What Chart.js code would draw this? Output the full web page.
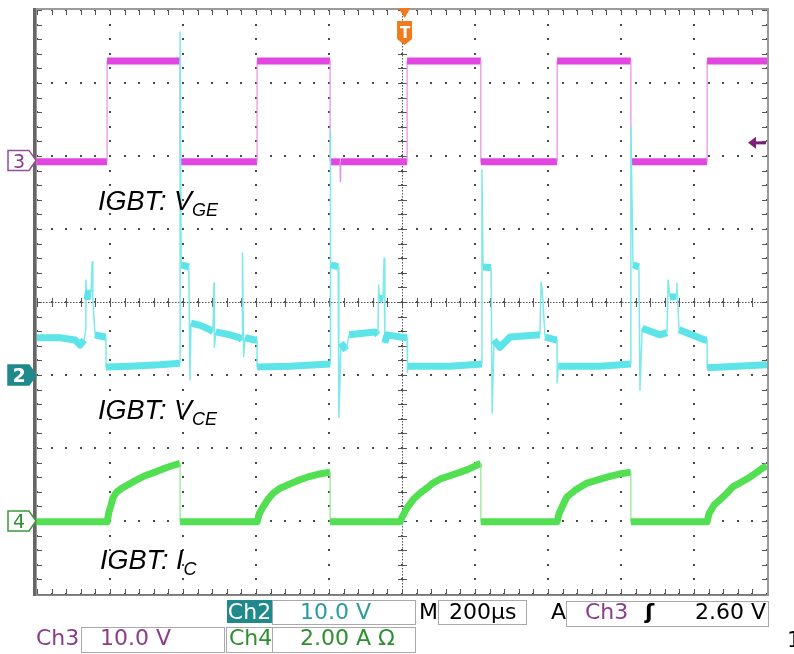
<!DOCTYPE html>
<html><head><meta charset="utf-8">
<script src="https://cdn.jsdelivr.net/npm/chart.js@4.4.1/dist/chart.umd.min.js"></script>
<style>
html,body{margin:0;padding:0;background:#fff}
#wrap{position:relative;width:794px;height:654px;overflow:hidden;background:#fff}
#c{position:absolute;left:0;top:0}
.t{position:absolute;font-family:'DejaVu Sans',sans-serif;font-size:22px;line-height:24px;white-space:nowrap}
.b{position:absolute;border:1.5px solid #a9a9a9;box-sizing:border-box;background:#fff}
.lab{position:absolute;font-family:'Liberation Sans',Arial,sans-serif;font-style:italic;font-size:27px;line-height:27px;white-space:nowrap;color:#000}
.lab span{font-size:18px;position:relative;top:6px}
.tag{position:absolute;font-family:'DejaVu Sans',sans-serif;font-size:19px;line-height:20px;width:22px;text-align:center}
</style></head><body>
<div id="wrap">
<canvas id="c" width="794" height="654"></canvas>

<div class="lab" style="left:98px;top:188px">IGBT: V<span>GE</span></div>
<div class="lab" style="left:98px;top:397px">IGBT: V<span>CE</span></div>
<div class="lab" style="left:100px;top:547px">IGBT: I<span>C</span></div>

<div class="tag" style="left:8px;top:151px;color:#8b3d8b">3</div>
<div class="tag" style="left:8px;top:365px;color:#fff;font-weight:bold">2</div>
<div class="tag" style="left:8px;top:511px;color:#2f8f2f">4</div>
<div class="t" style="left:398px;top:21px;width:14px;text-align:center;font-size:15px;font-weight:bold;color:#fff">T</div>

<!-- footer row 1 -->
<div class="b" style="left:272px;top:600px;width:144px;height:25px"></div>
<div class="b" style="left:438px;top:600px;width:89px;height:25px"></div>
<div class="b" style="left:566px;top:601px;width:203px;height:26px"></div>
<div class="t" style="left:227px;top:600px;width:45px;height:23px;background:#1f898b;color:#fff;text-align:center">Ch2</div>
<div class="t" style="left:300px;top:600px;color:#2a9c9e">10.0 V</div>
<div class="t" style="left:419px;top:600px;color:#000">M</div>
<div class="t" style="left:449px;top:600px;color:#000">200µs</div>
<div class="t" style="left:551px;top:600px;color:#000">A</div>
<div class="t" style="left:585px;top:600px;color:#8b3d8b">Ch3</div>
<div class="t" style="left:645px;top:600px;color:#000;font-weight:bold">ʃ</div>
<div class="t" style="left:695px;top:600px;color:#000">2.60 V</div>
<!-- footer row 2 -->
<div class="b" style="left:81px;top:627px;width:144px;height:26px"></div>
<div class="b" style="left:226px;top:627px;width:47px;height:26px;border-right:none"></div>
<div class="b" style="left:272px;top:627px;width:144px;height:26px"></div>
<div class="t" style="left:36px;top:626px;color:#8b3d8b">Ch3</div>
<div class="t" style="left:100px;top:626px;color:#8b3d8b">10.0 V</div>
<div class="t" style="left:229px;top:626px;color:#2f8f2f">Ch4</div>
<div class="t" style="left:300px;top:626px;color:#2f8f2f">2.00 A Ω</div>
<div class="t" style="left:787px;top:628px;color:#000">1</div>
</div>

<script>
// time axis in microseconds (200 µs/div, 10 div), vertical axis in screen divisions (8 div)
const timeDivs = [0, 200, 400, 600, 800, 1000, 1200, 1400, 1600, 1800, 2000];
const voltDivs = [-4, -3, -2, -1, 0, 1, 2, 3, 4];

// Ch3: IGBT V_GE (10 V/div)
const vgeT = [0,192,192,392,392,603,603,803,803,830,831,832,1014,1014,1216,1216,1425,1425,1627,1627,1836,1836,2000];
const vgeY = [1.92,1.92,3.30,3.30,1.92,1.92,3.30,3.30,1.92,1.92,1.65,1.92,1.92,3.30,3.30,1.92,1.92,3.30,3.30,1.92,1.92,3.30,3.30];

// Ch2: IGBT V_CE (10 V/div)
const vceT = [0,63,104,118,129,134,134,137,140,148,151,153,159,186,189,189,255,337,392,392,395,416,419,422,447,474,482,485,486,490,529,556,562,563,566,570,597,603,603,693,803,803,805,825,827,833,847,855,926,934,936,938,948,951,953,959,995,1014,1014,1016,1132,1219,1219,1222,1244,1247,1252,1268,1288,1296,1378,1381,1384,1392,1422,1425,1425,1428,1542,1627,1627,1633,1649,1652,1658,1707,1726,1729,1734,1751,1753,1759,1830,1836,1836,2000];
const vceY = [-0.49,-0.49,-0.52,-0.59,-0.52,-0.38,0.30,0.03,0.12,0.12,0.55,0.03,-0.45,-0.48,-0.48,-0.89,-0.88,-0.86,-0.84,3.70,0.51,0.48,-1.07,-0.29,-0.32,-0.38,-0.41,0.26,-0.62,-0.41,-0.45,-0.49,-0.52,0.67,-0.75,-0.49,-0.52,-0.52,-0.89,-0.88,-0.85,2.33,0.51,0.48,-1.58,-0.56,-0.66,-0.45,-0.41,-0.45,0.23,0.05,0.05,0.60,-0.56,-0.45,-0.48,-0.49,-0.97,-0.88,-0.88,-0.85,1.81,0.48,0.47,-1.52,-0.52,-0.62,-0.52,-0.48,-0.45,0.27,0.16,-0.48,-0.52,-0.52,-1.11,-0.88,-0.88,-0.85,2.40,0.51,0.48,-1.21,-0.36,-0.45,-0.42,0.30,0.07,0.07,0.26,-0.38,-0.52,-0.52,-0.90,-0.86];

// Ch4: IGBT I_C (2 A/div)
const icT = [0,192,197,203,208,219,233,247,268,296,329,359,392,392,
             603,609,619,633,647,666,685,712,740,770,803,803,
             995,1000,1014,1030,1049,1068,1085,1107,1131,1178,1216,1216,
             1425,1430,1441,1452,1474,1507,1534,1562,1592,1627,1627,
             1836,1841,1855,1871,1888,1907,1929,1953,1973,1989,2000];
const icY = [-3.01,-3.01,-2.88,-2.78,-2.68,-2.60,-2.55,-2.51,-2.45,-2.38,-2.32,-2.26,-2.21,-3.01,
             -3.01,-2.90,-2.81,-2.70,-2.62,-2.55,-2.51,-2.45,-2.40,-2.36,-2.33,-3.01,
             -3.01,-2.95,-2.82,-2.71,-2.62,-2.55,-2.48,-2.42,-2.38,-2.30,-2.21,-3.01,
             -3.01,-2.90,-2.78,-2.67,-2.58,-2.48,-2.44,-2.40,-2.36,-2.33,-3.01,
             -3.01,-2.90,-2.78,-2.71,-2.63,-2.53,-2.47,-2.40,-2.33,-2.27,-2.25];

// channel ground markers (div), trigger position (µs) and trigger level (div)
const groundLevels = [1.94, -1.0, -3.0];
const triggerTime = 1007;
const triggerLevel = 2.18;

const pts = (t, v) => t.map((x, i) => ({x, y: v[i]}));
const isThin = (c, ratio) => {
  const dx = Math.abs(c.p1.x - c.p0.x), dy = Math.abs(c.p1.y - c.p0.y);
  if (dx < 1) return true;
  return ratio > 0 && dy > 8 && dy > ratio * dx;
};
const segStyle = (w, thin, col, thinCol, ratio) => ({
  borderWidth: c => isThin(c, ratio) ? thin : w,
  borderColor: c => isThin(c, ratio) ? thinCol : col
});

const scopePlugin = {
  id: 'scope',
  beforeDatasetsDraw(chart) {
    const {ctx, chartArea: a, scales: {x, y}} = chart;
    ctx.save();
    ctx.fillStyle = '#4a4a4a';
    timeDivs.forEach(t => {
      const px = Math.round(x.getPixelForValue(t));
      for (let i = 0; i <= 40; i++) {
        const py = Math.round(y.getPixelForValue(-4 + i * 0.2));
        ctx.fillRect(px - 1, py - 1, 2, 2);
      }
    });
    voltDivs.forEach(v => {
      const py = Math.round(y.getPixelForValue(v));
      for (let i = 0; i <= 50; i++) {
        const px = Math.round(x.getPixelForValue(i * 40));
        ctx.fillRect(px - 1, py - 1, 2, 2);
      }
    });
    const cx = Math.round(x.getPixelForValue(1000)), cy = Math.round(y.getPixelForValue(0));
    ctx.fillStyle = '#555';
    for (let px = a.left; px <= a.right; px += 3) ctx.fillRect(px, cy, 1.5, 1);
    for (let py = a.top; py <= a.bottom; py += 3) ctx.fillRect(cx, py, 1, 1.5);
    for (let i = 0; i <= 50; i++) {
      const px = Math.round(x.getPixelForValue(i * 40));
      ctx.fillRect(px, cy - 4, 1, 9);
      ctx.fillRect(px, a.top, 1, 5);
      ctx.fillRect(px, a.bottom - 5, 1, 5);
    }
    for (let i = 0; i <= 40; i++) {
      const py = Math.round(y.getPixelForValue(-4 + i * 0.2));
      ctx.fillRect(cx - 4, py, 9, 1);
      ctx.fillRect(a.left, py, 5, 1);
      ctx.fillRect(a.right - 5, py, 5, 1);
    }
    ctx.restore();
  },
  afterDatasetsDraw(chart) {
    const {ctx, chartArea: a, scales: {x, y}} = chart;
    ctx.save();
    ctx.strokeStyle = '#9a9a9a';
    ctx.lineWidth = 2;
    ctx.strokeRect(a.left - 1, a.top - 1, a.right - a.left + 2, a.bottom - a.top + 2);
    ctx.fillStyle = '#666';
    ctx.fillRect(a.left - 4, a.top - 2, 3, a.bottom - a.top + 4);
    ctx.fillStyle = '#777';
    ctx.fillRect(a.left, a.bottom, a.right - a.left, 1.5);
    const tagCfg = [
      {fill: '#fff', stroke: '#9a4a9a'},
      {fill: '#1f898b', stroke: '#1f898b'},
      {fill: '#fff', stroke: '#3a9a3a'}
    ];
    groundLevels.forEach((g, i) => {
      const yc = y.getPixelForValue(g);
      ctx.beginPath();
      ctx.moveTo(8, yc - 10); ctx.lineTo(29, yc - 10); ctx.lineTo(a.left - 1, yc);
      ctx.lineTo(29, yc + 10); ctx.lineTo(8, yc + 10); ctx.closePath();
      ctx.fillStyle = tagCfg[i].fill; ctx.fill();
      ctx.lineWidth = 1.5; ctx.strokeStyle = tagCfg[i].stroke; ctx.stroke();
    });
    const tx = x.getPixelForValue(triggerTime);
    ctx.fillStyle = '#f07a1c';
    ctx.beginPath();
    ctx.moveTo(tx - 6, a.top - 2); ctx.lineTo(tx + 6, a.top - 2); ctx.lineTo(tx, a.top + 8); ctx.closePath(); ctx.fill();
    ctx.beginPath();
    ctx.moveTo(tx - 7.5, 21); ctx.lineTo(tx + 7.5, 21); ctx.lineTo(tx + 7.5, 39);
    ctx.lineTo(tx, 45); ctx.lineTo(tx - 7.5, 39); ctx.closePath(); ctx.fill();
    const ty = y.getPixelForValue(triggerLevel);
    ctx.fillStyle = '#7b1f7b';
    ctx.beginPath();
    ctx.moveTo(a.right - 19, ty); ctx.lineTo(a.right - 11, ty - 6); ctx.lineTo(a.right - 11, ty + 6); ctx.closePath(); ctx.fill();
    ctx.fillRect(a.right - 12, ty - 1.5, 11, 3);
    ctx.restore();
  }
};

new Chart(document.getElementById('c'), {
  type: 'line',
  data: {
    datasets: [
      {label: 'Ch2 V_CE', data: pts(vceT, vceY), borderColor: '#5de4e8', borderWidth: 7,
       segment: segStyle(7, 1.5, '#5de4e8', '#7ee9ec', 4)},
      {label: 'Ch3 V_GE', data: pts(vgeT, vgeY), borderColor: '#e246e0', borderWidth: 7,
       segment: segStyle(7, 1.2, '#e246e0', '#e58ee3', 0)},
      {label: 'Ch4 I_C', data: pts(icT, icY), borderColor: '#52e052', borderWidth: 7,
       segment: segStyle(7, 1.2, '#52e052', '#8fe68f', 0)}
    ]
  },
  options: {
    responsive: false, animation: false, devicePixelRatio: 1, events: [],
    layout: {padding: {left: 37, top: 10, right: 27, bottom: 60}},
    plugins: {legend: {display: false}, tooltip: {enabled: false}},
    elements: {point: {radius: 0}, line: {tension: 0, borderJoinStyle: 'round', borderCapStyle: 'butt'}},
    scales: {
      x: {type: 'linear', min: 0, max: 2000, display: false},
      y: {type: 'linear', min: -4, max: 4, display: false}
    }
  },
  plugins: [scopePlugin]
});
</script>
</body></html>
